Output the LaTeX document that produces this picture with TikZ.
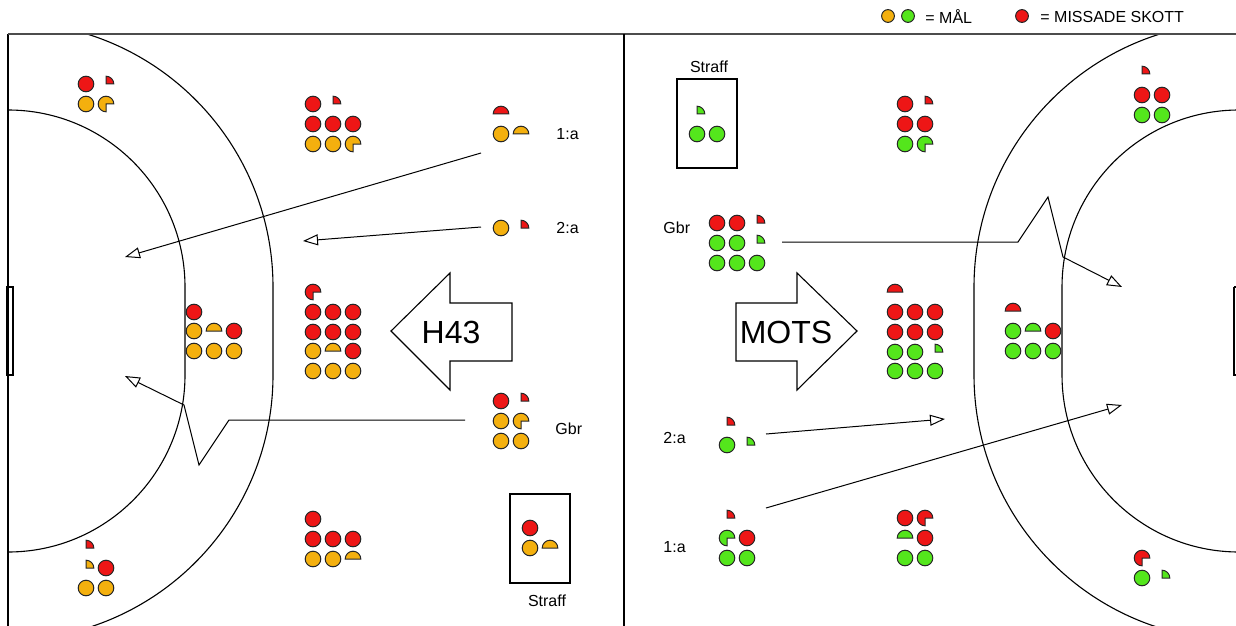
\documentclass[tikz,border=0pt]{standalone}
\usepackage{fontspec}
\setmainfont{Liberation Sans}
\usetikzlibrary{arrows.meta}
\definecolor{mOr}{RGB}{244,176,14}
\definecolor{mGr}{RGB}{84,230,28}
\definecolor{mRd}{RGB}{238,22,22}
\newcommand\mkr{3.9pt}
\newcommand\mkCirc[3]{\draw[mkst,fill=#3] (#1,#2) circle[radius=\mkr];}
\newcommand\mkHalf[3]{\draw[mkst,fill=#3] (#1,#2) ++(\mkr,0pt) arc[start angle=0,end angle=180,radius=\mkr] -- cycle;}
\newcommand\mkQuar[3]{\draw[mkst,fill=#3] (#1,#2) -- ++(\mkr,0pt) arc[start angle=0,end angle=90,radius=\mkr] -- cycle;}
\newcommand\mkThree[3]{\draw[mkst,fill=#3] (#1,#2) -- ++(\mkr,0pt) arc[start angle=0,end angle=270,radius=\mkr] -- cycle;}
\tikzset{
  mkst/.style={draw=black!85,line width=0.5pt},
  court/.style={draw=black,line width=0.55pt},
  topln/.style={draw=black!70,line width=0.8pt},
  shot/.style={draw=black,line width=0.5pt,-{Triangle[open,length=7.5pt,width=5.5pt]}},
  bigarrow/.style={draw=black,line width=0.55pt,fill=white},
  lbl/.style={inner sep=0pt,font=\fontsize{8pt}{9.6pt}\selectfont},
  biglbl/.style={inner sep=0pt,font=\fontsize{16pt}{19pt}\selectfont},
  boxst/.style={draw=black,line width=0.55pt}
}
\begin{document}
\begin{tikzpicture}[x=0.5pt,y=-0.5pt]
\useasboundingbox (0,0) rectangle (1236,626);
% ---------- court ----------
\begin{scope}
\clip (0,34) rectangle (1236,626);
\draw[court] (8,22) arc[start angle=90,end angle=0,radius=132.5pt] -- (273,375) arc[start angle=0,end angle=-90,radius=132.5pt];
\draw[court] (8,110) arc[start angle=90,end angle=0,radius=88.5pt] -- (185,375) arc[start angle=0,end angle=-90,radius=88.5pt];
\draw[court] (1239,22) arc[start angle=90,end angle=180,radius=132.5pt] -- (974,375) arc[start angle=180,end angle=270,radius=132.5pt];
\draw[court] (1239,110) arc[start angle=90,end angle=180,radius=88.5pt] -- (1062,375) arc[start angle=180,end angle=270,radius=88.5pt];
\draw[court] (1234,287) -- (1240,287) (1234,287) -- (1234,375) -- (1240,375);
\end{scope}
\draw[court] (8,626) -- (8,34);
\draw[topln] (8,34) -- (1236,34);
\draw[court] (624,34) -- (624,626);
\draw[court] (7,287) rectangle (13,375);
% ---------- legend ----------
\draw[mkst,fill=mOr] (888,16) circle[radius=3.2pt];
\draw[mkst,fill=mGr] (908,16) circle[radius=3.2pt];
\node[lbl,anchor=west] (legmal) at (925,17) {= MÅL};
\draw[mkst,fill=mRd] (1022,16) circle[radius=3.2pt];
\node[lbl,anchor=west] (legmiss) at (1040,17) {= MISSADE SKOTT};
% ---------- big arrows ----------
\draw[bigarrow] (391,331) -- (450,273) -- (450,303) -- (512,303) -- (512,361) -- (450,361) -- (450,390) -- cycle;
\node[biglbl] (h43) at (451,332) {H43};
\draw[bigarrow] (857,331) -- (797,273) -- (797,303) -- (736,303) -- (736,361) -- (797,361) -- (797,390) -- cycle;
\node[biglbl] (mots) at (786,332) {MOTS};
% ---------- shot arrows ----------
\coordinate (la1s) at (481,153); \coordinate (la1e) at (125,257);
\coordinate (la2s) at (481,227); \coordinate (la2e) at (303,241);
\coordinate (lgs) at (465,420); \coordinate (lg1) at (229,420); \coordinate (lg2) at (199,465); \coordinate (lg3) at (184,405); \coordinate (lge) at (125,376);
\coordinate (ra1s) at (766,508); \coordinate (ra1e) at (1122,405);
\coordinate (ra2s) at (766,434); \coordinate (ra2e) at (945,419);
\coordinate (rgs) at (782,242); \coordinate (rg1) at (1018,242); \coordinate (rg2) at (1048,197); \coordinate (rg3) at (1063,257); \coordinate (rge) at (1122,287);
\draw[shot] (la1s) -- (la1e);
\draw[shot] (la2s) -- (la2e);
\draw[shot] (lgs) -- (lg1) -- (lg2) -- (lg3) -- (lge);
\draw[shot] (ra1s) -- (ra1e);
\draw[shot] (ra2s) -- (ra2e);
\draw[shot] (rgs) -- (rg1) -- (rg2) -- (rg3) -- (rge);
% ---------- left markers (H43) ----------
\mkCirc{86}{84}{mRd} \mkQuar{106}{84}{mRd}
\mkCirc{86}{104}{mOr} \mkThree{106}{104}{mOr}
%
\mkCirc{313}{104}{mRd} \mkQuar{333}{104}{mRd}
\mkCirc{313}{124}{mRd} \mkCirc{333}{124}{mRd} \mkCirc{353}{124}{mRd}
\mkCirc{313}{144}{mOr} \mkCirc{333}{144}{mOr} \mkThree{353}{144}{mOr}
%
\mkCirc{194}{312}{mRd}
\mkCirc{194}{331}{mOr} \mkHalf{214}{331}{mOr} \mkCirc{234}{331}{mRd}
\mkCirc{194}{351}{mOr} \mkCirc{214}{351}{mOr} \mkCirc{234}{351}{mOr}
%
\mkThree{313}{292}{mRd}
\mkCirc{313}{312}{mRd} \mkCirc{333}{312}{mRd} \mkCirc{353}{312}{mRd}
\mkCirc{313}{332}{mRd} \mkCirc{333}{332}{mRd} \mkCirc{353}{332}{mRd}
\mkCirc{313}{351}{mOr} \mkHalf{333}{351}{mOr} \mkCirc{353}{351}{mRd}
\mkCirc{313}{371}{mOr} \mkCirc{333}{371}{mOr} \mkCirc{353}{371}{mOr}
%
\mkHalf{501}{114}{mRd}
\mkCirc{501}{134}{mOr} \mkHalf{521}{134}{mOr}
\node[lbl,anchor=west] (l1a) at (556,134) {1:a};
%
\mkCirc{501}{228}{mOr} \mkQuar{521}{228}{mRd}
\node[lbl,anchor=west] (l2a) at (556,228) {2:a};
%
\mkCirc{501}{401}{mRd} \mkQuar{521}{401}{mRd}
\mkCirc{501}{421}{mOr} \mkThree{521}{421}{mOr}
\mkCirc{501}{441}{mOr} \mkCirc{521}{441}{mOr}
\node[lbl,anchor=west] (lgbr) at (555,429) {Gbr};
%
\draw[boxst] (510,494) rectangle (570,583);
\mkCirc{530}{528}{mRd}
\mkCirc{530}{548}{mOr} \mkHalf{550}{548}{mOr}
\node[lbl] (lstraff) at (547,601) {Straff};
%
\mkCirc{313}{519}{mRd}
\mkCirc{313}{539}{mRd} \mkCirc{333}{539}{mRd} \mkCirc{353}{539}{mRd}
\mkCirc{313}{559}{mOr} \mkCirc{333}{559}{mOr} \mkHalf{353}{559}{mOr}
%
\mkQuar{86}{548}{mRd}
\mkQuar{86}{568}{mOr} \mkCirc{106}{568}{mRd}
\mkCirc{86}{588}{mOr} \mkCirc{106}{588}{mOr}
% ---------- right markers (MOTS) ----------
\draw[boxst] (677,79) rectangle (737,168);
\node[lbl] (rstraff) at (709,67) {Straff};
\mkQuar{697}{114}{mGr}
\mkCirc{697}{134}{mGr} \mkCirc{717}{134}{mGr}
%
\mkCirc{905}{104}{mRd} \mkQuar{925}{104}{mRd}
\mkCirc{905}{124}{mRd} \mkCirc{925}{124}{mRd}
\mkCirc{905}{144}{mGr} \mkThree{925}{144}{mGr}
%
\node[lbl,anchor=west] (rgbr) at (663,228) {Gbr};
\mkCirc{717}{223}{mRd} \mkCirc{737}{223}{mRd} \mkQuar{757}{223}{mRd}
\mkCirc{717}{243}{mGr} \mkCirc{737}{243}{mGr} \mkQuar{757}{243}{mGr}
\mkCirc{717}{263}{mGr} \mkCirc{737}{263}{mGr} \mkCirc{757}{263}{mGr}
%
\mkHalf{895}{292}{mRd}
\mkCirc{895}{312}{mRd} \mkCirc{915}{312}{mRd} \mkCirc{935}{312}{mRd}
\mkCirc{895}{332}{mRd} \mkCirc{915}{332}{mRd} \mkCirc{935}{332}{mRd}
\mkCirc{895}{352}{mGr} \mkCirc{915}{352}{mGr} \mkQuar{935}{352}{mGr}
\mkCirc{895}{371}{mGr} \mkCirc{915}{371}{mGr} \mkCirc{935}{371}{mGr}
%
\mkHalf{1013}{311}{mRd}
\mkCirc{1013}{331}{mGr} \mkHalf{1033}{331}{mGr} \mkCirc{1053}{331}{mRd}
\mkCirc{1013}{351}{mGr} \mkCirc{1033}{351}{mGr} \mkCirc{1053}{351}{mGr}
%
\mkQuar{1142}{74}{mRd}
\mkCirc{1142}{95}{mRd} \mkCirc{1162}{95}{mRd}
\mkCirc{1142}{115}{mGr} \mkCirc{1162}{115}{mGr}
%
\node[lbl,anchor=west] (r2a) at (663,438) {2:a};
\mkQuar{727}{425}{mRd}
\mkCirc{727}{445}{mGr} \mkQuar{747}{445}{mGr}
%
\node[lbl,anchor=west] (r1a) at (663,547) {1:a};
\mkQuar{727}{518}{mRd}
\mkThree{727}{538}{mGr} \mkCirc{747}{538}{mRd}
\mkCirc{727}{558}{mGr} \mkCirc{747}{558}{mGr}
%
\mkCirc{905}{518}{mRd} \mkThree{925}{518}{mRd}
\mkHalf{905}{538}{mGr} \mkCirc{925}{538}{mRd}
\mkCirc{905}{558}{mGr} \mkCirc{925}{558}{mGr}
%
\mkThree{1142}{558}{mRd}
\mkCirc{1142}{578}{mGr} \mkQuar{1162}{578}{mGr}
\end{tikzpicture}
\end{document}
